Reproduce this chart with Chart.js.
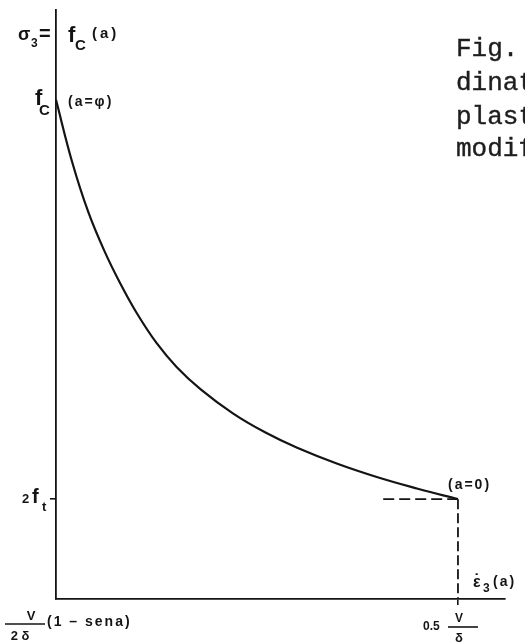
<!DOCTYPE html>
<html>
<head>
<meta charset="utf-8">
<script src="https://cdn.jsdelivr.net/npm/chart.js@4/dist/chart.umd.min.js"></script>
<style>
  html, body { margin: 0; padding: 0; background: #fff; }
  #wrap { position: relative; width: 525px; height: 643px; overflow: hidden; }
  .typed {
    position: absolute;
    left: 456px;
    font-family: "Liberation Mono", "Courier New", monospace;
    font-size: 26px;
    line-height: 26px;
    color: #1e1e1e;
    -webkit-text-stroke: 0.4px #1e1e1e;
    white-space: nowrap;
  }
</style>
</head>
<body>
<div id="wrap">
  <canvas id="curva" width="525" height="643"></canvas>
  <div class="typed" style="top: 36px">Fig.</div>
  <div class="typed" style="top: 70px">dinat</div>
  <div class="typed" style="top: 104px">plast</div>
  <div class="typed" style="top: 136px">modif</div>
</div>
<script>
// strain rate, in units of V/delta (0.5 is the end of the curve)
const strainRate = [0, 0.02, 0.04, 0.06, 0.08, 0.10, 0.125, 0.15, 0.18,
  0.22, 0.26, 0.30, 0.35, 0.40, 0.45, 0.50];
// stress sigma_3, in units of f_t (f_c = 10, 2 f_t = 2)
const stress = [10, 8.76, 7.76, 6.98, 6.32, 5.74, 5.13, 4.65, 4.20,
  3.72, 3.34, 3.03, 2.71, 2.44, 2.21, 2.0];

const FC = 10;
const FT2 = 2;
const X_END = 0.5;
const X_MAX = 0.5585;
const Y_MAX = 11.8;

// dashed guides at the a = 0 end
const guideX = [0.407, 0.5];
const guideY = [2, 2];
const dropX = [0.5, 0.5];
const dropY = [2, 0];

const INK = "#141414";
const pts = (xs, ys) => xs.map((x, i) => ({ x, y: ys[i] }));

function txt(ctx, s, x, y, size, spacing, align) {
  ctx.font = `bold ${size}px "Liberation Sans", Arial, sans-serif`;
  ctx.letterSpacing = (spacing || 0) + "px";
  ctx.textAlign = align || "left";
  ctx.fillText(s, x, y);
}

function bar(ctx, x1, x2, y) {
  ctx.beginPath();
  ctx.moveTo(x1, y);
  ctx.lineTo(x2, y);
  ctx.stroke();
}

const labels = {
  id: "labels",
  afterDraw(chart) {
    const { ctx, chartArea } = chart;
    const xs = chart.scales.x;
    const ys = chart.scales.y;
    const L = xs.getPixelForValue(0);
    const top = chartArea.top;
    const R = chartArea.right;
    const O = ys.getPixelForValue(0);
    const F = ys.getPixelForValue(FC);
    const T = ys.getPixelForValue(FT2);
    const E = xs.getPixelForValue(X_END);

    ctx.save();
    ctx.fillStyle = INK;
    ctx.strokeStyle = INK;
    ctx.lineWidth = 1.6;
    ctx.textBaseline = "alphabetic";

    // sigma_3 = f_C(a)
    txt(ctx, "σ", L - 38, top + 30, 18);
    txt(ctx, "3", L - 25, top + 37, 12);
    txt(ctx, "=", L - 17, top + 30, 20);
    txt(ctx, "f", L + 12, top + 32, 22);
    txt(ctx, "C", L + 19, top + 40, 15);
    txt(ctx, "(a)", L + 36, top + 28, 15, 3);

    // f_C (a = phi)
    txt(ctx, "f", L - 21, F + 5, 22);
    txt(ctx, "C", L - 17, F + 15, 15);
    txt(ctx, "(a=φ)", L + 12, F + 6, 14, 2);

    // 2 f_t
    txt(ctx, "2", L - 34, T + 4, 13);
    txt(ctx, "f", L - 24, T + 4, 20);
    txt(ctx, "t", L - 14, T + 12, 13);

    // (a = 0)
    txt(ctx, "(a=0)", E - 10, T - 10, 14, 2);

    // strain rate axis name
    txt(ctx, "ε", R - 32, O - 12, 16);
    txt(ctx, "˙", R - 31, O - 14, 16);
    txt(ctx, "3", R - 22, O - 7, 12);
    txt(ctx, "(a)", R - 12, O - 13, 14, 2);

    // V / 2δ (1 - sen a)
    txt(ctx, "V", L - 25, O + 21, 13, 0, "center");
    bar(ctx, L - 51, L - 11, O + 25);
    txt(ctx, "2 δ", L - 36, O + 41, 13, 0, "center");
    txt(ctx, "(1 – sena)", L - 9, O + 27, 14, 2);

    // 0.5 V / δ
    txt(ctx, "0.5", E - 35, O + 31, 12);
    txt(ctx, "V", E + 1, O + 23, 12, 0, "center");
    bar(ctx, E - 10, E + 20, O + 28);
    txt(ctx, "δ", E + 1, O + 43, 13, 0, "center");

    ctx.restore();
  },
};

new Chart(document.getElementById("curva"), {
  type: "line",
  data: {
    datasets: [
      {
        data: pts(strainRate, stress),
        borderColor: INK,
        borderWidth: 2.2,
        pointRadius: 0,
        tension: 0.4,
        clip: false,
      },
      {
        data: pts(guideX, guideY),
        borderColor: INK,
        borderWidth: 1.8,
        borderDash: [11, 5],
        pointRadius: 0,
        clip: false,
      },
      {
        data: pts(dropX, dropY),
        borderColor: INK,
        borderWidth: 1.8,
        borderDash: [10, 4],
        pointRadius: 0,
        clip: false,
      },
    ],
  },
  options: {
    responsive: false,
    animation: false,
    devicePixelRatio: 1,
    layout: { padding: { left: 50, right: 20, top: 10, bottom: 38 } },
    plugins: { legend: { display: false }, tooltip: { enabled: false } },
    scales: {
      x: {
        type: "linear",
        min: 0,
        max: X_MAX,
        afterBuildTicks: (s) => { s.ticks = [{ value: X_END }]; },
        ticks: { display: false },
        grid: { drawOnChartArea: false, drawTicks: true, tickLength: 6, color: INK, lineWidth: 1.6 },
        border: { display: true, color: INK, width: 1.8 },
      },
      y: {
        type: "linear",
        min: 0,
        max: Y_MAX,
        afterBuildTicks: (s) => { s.ticks = [{ value: FT2 }]; },
        ticks: { display: false },
        grid: { drawOnChartArea: false, drawTicks: true, tickLength: 6, color: INK, lineWidth: 1.6 },
        border: { display: true, color: INK, width: 1.8 },
      },
    },
  },
  plugins: [labels],
});
</script>
</body>
</html>
